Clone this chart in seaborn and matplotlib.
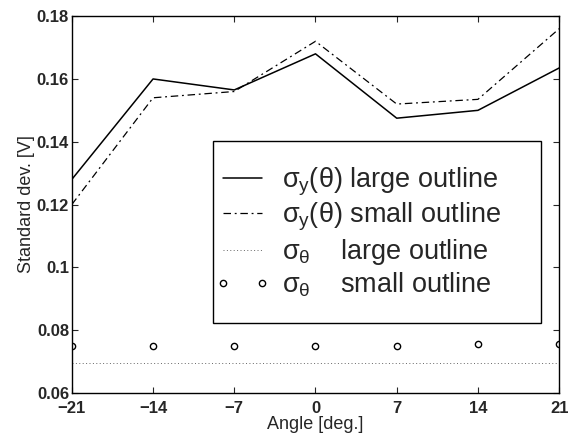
import matplotlib
matplotlib.use("Agg")
import matplotlib.pyplot as plt
import matplotlib.patches as mpatches
import seaborn as sns
import numpy as np
import pandas as pd
from matplotlib.ticker import FuncFormatter

angles = [-21, -14, -7, 0, 7, 14, 21]
sy_large = [0.128, 0.160, 0.1565, 0.168, 0.1475, 0.150, 0.1635]
sy_small = [0.120, 0.154, 0.156, 0.172, 0.152, 0.1535, 0.176]
st_large = [0.0695, 0.0695, 0.0695, 0.0695, 0.0695, 0.0695, 0.0695]
st_small = [0.075, 0.075, 0.075, 0.075, 0.075, 0.0755, 0.0755]
labels = [r"$\sigma_y(\theta)$ large outline",
          r"$\sigma_y(\theta)$ small outline",
          r"$\sigma_\theta$    large outline",
          r"$\sigma_\theta$    small outline"]

sns.set_style("ticks")
plt.rcParams['font.family'] = ['Liberation Sans', 'DejaVu Sans']
plt.rcParams['mathtext.fontset'] = 'custom'
plt.rcParams['mathtext.rm'] = 'Liberation Sans'
plt.rcParams['mathtext.it'] = 'Liberation Sans'
plt.rcParams['mathtext.bf'] = 'Liberation Sans:bold'

fig = plt.figure(figsize=(5.7, 4.37), dpi=100)
ax = fig.add_axes([0.126, 0.101, 0.855, 0.862])

df = pd.DataFrame({"angle": angles, "a": sy_large, "b": sy_small, "c": st_large, "d": st_small})
sns.lineplot(data=df, x="angle", y="a", ax=ax, color="black", lw=1.1, label=labels[0])
sns.lineplot(data=df, x="angle", y="b", ax=ax, color="black", lw=0.9, label=labels[1])
ax.lines[-1].set_linestyle((0, (6, 3, 1.5, 3)))
sns.lineplot(data=df, x="angle", y="c", ax=ax, color="#666666", lw=0.7, label=labels[2])
ax.lines[-1].set_linestyle((0, (1, 2.5)))
sns.lineplot(data=df, x="angle", y="d", ax=ax, color="black", lw=0, marker="o", markersize=4.5,
             markerfacecolor="white", markeredgecolor="black", markeredgewidth=1.0, label=labels[3])

ax.set_xlim(-21, 21)
ax.set_ylim(0.06, 0.18)
ax.set_xticks(angles)
ax.set_yticks([0.06, 0.08, 0.1, 0.12, 0.14, 0.16, 0.18])
ax.yaxis.set_major_formatter(FuncFormatter(lambda v, p: f"{v:g}"))
ax.xaxis.set_major_formatter(FuncFormatter(lambda v, p: f"{int(round(v))}".replace("-", "\u2212")))
ax.tick_params(direction="in", top=True, right=True, length=4, width=0.8, labelsize=12)
ax.tick_params(axis="x", pad=6)
ax.tick_params(axis="y", pad=2)
for lab in ax.get_xticklabels() + ax.get_yticklabels():
    lab.set_fontweight("bold")
for s in ax.spines.values():
    s.set_linewidth(1.0)
    s.set_color("black")
ax.set_xlabel("Angle [deg.]", fontsize=13, labelpad=0)
ax.set_ylabel("Standard dev. [V]", fontsize=13, labelpad=1)

leg = ax.legend(loc="upper left", bbox_to_anchor=(0.2936, 0.604), fontsize=19.5, frameon=False,
                numpoints=2, handlelength=2.04, borderpad=0.0, labelspacing=0.13,
                handletextpad=0.43, borderaxespad=0)
leg.set_zorder(5)

# white-filled frame drawn around the legend content with MATLAB-like padding
fig.canvas.draw()
bb = leg.get_window_extent(fig.canvas.get_renderer())
pad_l, pad_r, pad_t, pad_b = 2, 40, 24, 24
x0, y0 = fig.transFigure.inverted().transform((bb.x0 - pad_l, bb.y0 - pad_b))
x1, y1 = fig.transFigure.inverted().transform((bb.x1 + pad_r, bb.y1 + pad_t))
frame = mpatches.Rectangle((x0, y0), x1 - x0, y1 - y0, transform=fig.transFigure,
                           facecolor="white", edgecolor="black", lw=1.0, zorder=4)
ax.add_artist(frame)
frame.set_clip_on(False)

fig.savefig("out.png", dpi=100)
